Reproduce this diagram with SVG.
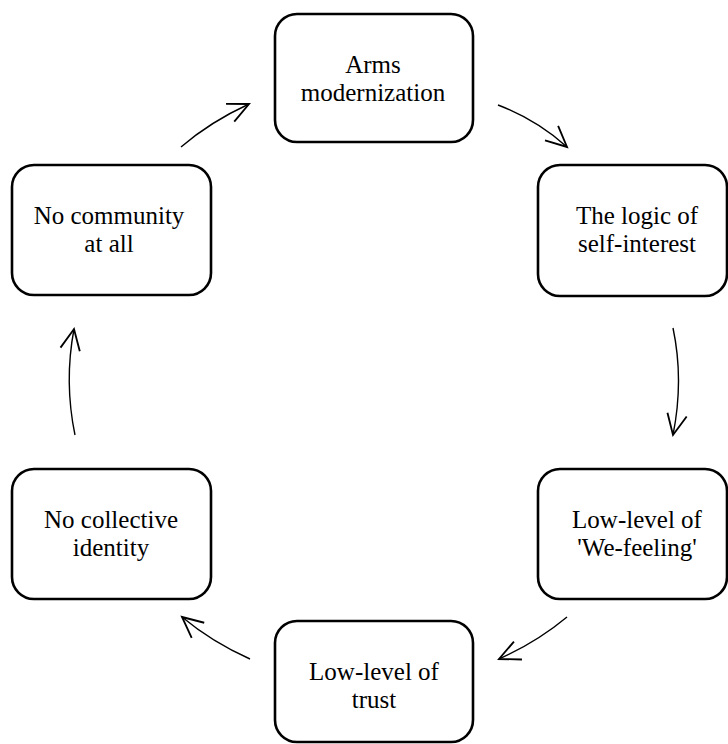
<svg xmlns="http://www.w3.org/2000/svg" width="728" height="744" viewBox="0 0 728 744">
<defs>
<marker id="ah" markerUnits="userSpaceOnUse" markerWidth="30" markerHeight="30" refX="0" refY="0" viewBox="-22 -12 26 24" orient="auto">
<path d="M-18,-8.5 L0,0 L-18,8.5" fill="none" stroke="#000" stroke-width="1.6"/>
</marker>
</defs>
<rect width="728" height="744" fill="#fff"/>
<g id="connectors" fill="none" stroke="#000" stroke-width="1.4" marker-end="url(#ah)">
<path d="M181,147 Q210,122 249,104"/>
<path d="M498,105 Q537,120 567,147"/>
<path d="M673,328 Q684,380 673,435"/>
<path d="M567,617 Q537,642 499,659"/>
<path d="M250,659 Q212,642 182,617"/>
<path d="M75,435 Q64,382 74,329"/>
</g>
<g id="arms">
<rect x="275" y="14" width="198" height="128" rx="22" fill="#fff" stroke="#000" stroke-width="2.6"/>
<text x="373" y="73" font-family="Times New Roman, Liberation Serif, serif" font-size="25" text-anchor="middle">Arms</text>
<text x="373" y="101" font-family="Times New Roman, Liberation Serif, serif" font-size="25" text-anchor="middle">modernization</text>
</g>
<g id="self-interest">
<rect x="538" y="165" width="189" height="131" rx="22" fill="#fff" stroke="#000" stroke-width="2.6"/>
<text x="637" y="224" font-family="Times New Roman, Liberation Serif, serif" font-size="25" text-anchor="middle">The logic of</text>
<text x="637" y="252" font-family="Times New Roman, Liberation Serif, serif" font-size="25" text-anchor="middle">self-interest</text>
</g>
<g id="we-feeling">
<rect x="538" y="469" width="189" height="130" rx="22" fill="#fff" stroke="#000" stroke-width="2.6"/>
<text x="637" y="528" font-family="Times New Roman, Liberation Serif, serif" font-size="25" text-anchor="middle">Low-level of</text>
<text x="637" y="556" font-family="Times New Roman, Liberation Serif, serif" font-size="25" text-anchor="middle">'We-feeling'</text>
</g>
<g id="trust">
<rect x="275" y="621" width="198" height="121" rx="22" fill="#fff" stroke="#000" stroke-width="2.6"/>
<text x="374" y="680" font-family="Times New Roman, Liberation Serif, serif" font-size="25" text-anchor="middle">Low-level of</text>
<text x="374" y="708" font-family="Times New Roman, Liberation Serif, serif" font-size="25" text-anchor="middle">trust</text>
</g>
<g id="collective">
<rect x="12" y="469" width="199" height="130" rx="22" fill="#fff" stroke="#000" stroke-width="2.6"/>
<text x="111" y="528" font-family="Times New Roman, Liberation Serif, serif" font-size="25" text-anchor="middle">No collective</text>
<text x="111" y="556" font-family="Times New Roman, Liberation Serif, serif" font-size="25" text-anchor="middle">identity</text>
</g>
<g id="community">
<rect x="12" y="165" width="199" height="130" rx="22" fill="#fff" stroke="#000" stroke-width="2.6"/>
<text x="109" y="224" font-family="Times New Roman, Liberation Serif, serif" font-size="25" text-anchor="middle">No community</text>
<text x="109" y="252" font-family="Times New Roman, Liberation Serif, serif" font-size="25" text-anchor="middle">at all</text>
</g>
</svg>
